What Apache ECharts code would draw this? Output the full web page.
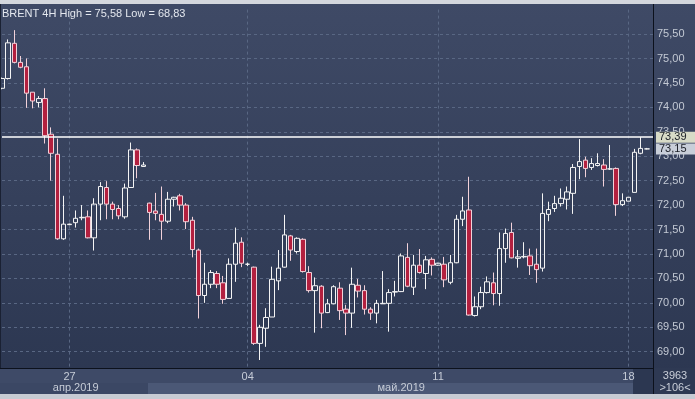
<!DOCTYPE html>
<html>
<head>
<meta charset="utf-8">
<style>
html, body { margin: 0; padding: 0; background: #2f3a53; }
#chart { width: 695px; height: 399px; }
</style>
<script src="https://cdn.jsdelivr.net/npm/echarts@6/dist/echarts.min.js"></script>
</head>
<body>
<div id="chart"></div>
<script>
// BRENT 4H candles
var opens = [74.39, 74.59, 75.31, 74.92, 74.83, 74.31, 74.10, 74.18, 73.45, 73.04,
    71.31, 71.60, 71.64, 71.74, 71.76, 71.33, 72.02, 72.36, 72.02, 71.93,
    71.76, 72.36, 73.13, 72.79, 72.04, 71.88, 71.81, 71.67, 72.12, 72.19,
    72.00, 71.69, 71.08, 70.15, 70.38, 70.60, 70.41, 70.09, 70.79, 71.24,
    70.79, 70.73, 69.17, 69.48, 69.71, 70.45, 70.73, 71.37, 71.05, 71.30,
    70.62, 70.25, 70.34, 69.80, 69.98, 70.30, 69.87, 69.79, 70.36, 70.25,
    69.87, 69.79, 69.98, 69.99, 70.22, 70.23, 70.93, 70.32, 70.77, 70.60,
    70.89, 70.77, 70.79, 70.42, 70.82, 71.71, 71.90, 69.74, 69.92, 70.21,
    70.41, 70.19, 71.11, 71.44, 70.91, 70.94, 70.96, 70.79, 70.71, 71.81,
    71.93, 72.03, 72.12, 72.24, 72.79, 72.92, 72.77, 72.81, 72.82, 72.74,
    72.75, 72.01, 72.08, 72.26, 73.06, 73.15];
var closes = [74.59, 75.32, 74.92, 74.82, 74.29, 74.13, 74.18, 73.42, 73.06, 71.31,
    71.61, 71.61, 71.73, 71.75, 71.33, 72.02, 72.38, 72.02, 71.91, 71.78,
    72.35, 73.13, 72.81, 72.82, 71.85, 71.83, 71.67, 72.12, 72.16, 72.00,
    71.66, 71.09, 70.15, 70.38, 70.62, 70.38, 70.07, 70.79, 71.22, 70.81,
    70.79, 69.17, 69.50, 69.70, 70.48, 70.71, 71.39, 71.08, 71.32, 70.64,
    70.25, 70.35, 69.79, 69.98, 70.33, 69.84, 69.79, 70.38, 70.24, 69.87,
    69.79, 69.99, 69.99, 70.21, 70.23, 70.96, 70.34, 70.77, 70.62, 70.88,
    70.77, 70.81, 70.47, 70.82, 71.71, 71.88, 69.75, 69.92, 70.21, 70.43,
    70.19, 71.11, 71.42, 70.92, 70.94, 70.95, 70.76, 70.68, 71.83, 71.91,
    72.03, 72.14, 72.27, 72.77, 72.89, 72.75, 72.85, 72.85, 72.73, 72.74,
    72.01, 72.09, 72.16, 73.08, 73.16, 73.15];
var lows = [74.37, 74.57, 74.90, 74.80, 73.99, 73.98, 74.00, 73.26, 72.50, 71.29,
    71.29, 71.59, 71.54, 71.69, 71.32, 71.07, 71.69, 71.71, 71.71, 71.71,
    71.72, 72.35, 72.55, 72.78, 71.29, 71.69, 71.29, 71.63, 71.97, 71.89,
    71.51, 70.93, 69.68, 70.00, 70.30, 70.30, 69.98, 70.09, 70.43, 70.73,
    70.75, 69.14, 68.83, 69.10, 69.71, 70.26, 70.72, 70.86, 71.01, 70.62,
    70.21, 69.39, 69.48, 69.79, 69.97, 69.65, 69.34, 69.49, 70.11, 69.76,
    69.65, 69.58, 69.98, 69.41, 70.13, 70.22, 70.32, 70.16, 70.60, 70.28,
    70.56, 70.76, 70.32, 70.38, 70.81, 71.57, 69.74, 69.72, 69.87, 70.19,
    69.95, 69.94, 70.82, 70.91, 70.72, 70.91, 70.57, 70.41, 70.64, 71.67,
    71.86, 71.97, 71.91, 71.82, 72.53, 72.57, 72.72, 72.79, 72.38, 72.72,
    71.78, 71.98, 72.08, 72.26, 73.04, 73.14];
var highs = [74.61, 75.39, 75.58, 75.05, 75.00, 74.31, 74.23, 74.39, 73.59, 73.36,
    72.19, 71.62, 71.89, 72.00, 71.89, 72.14, 72.47, 72.49, 72.07, 72.00,
    72.44, 73.28, 73.16, 72.88, 72.05, 72.25, 72.38, 72.27, 72.17, 72.23,
    72.04, 71.76, 71.11, 70.82, 70.67, 70.65, 70.55, 70.91, 71.54, 71.34,
    70.82, 70.74, 69.55, 69.89, 70.74, 71.08, 71.80, 71.39, 71.34, 71.32,
    70.75, 70.52, 70.36, 70.08, 70.36, 70.42, 69.96, 70.72, 70.49, 70.36,
    69.91, 70.06, 70.65, 70.28, 70.45, 71.01, 71.22, 70.98, 71.10, 70.96,
    70.93, 70.82, 70.94, 70.98, 71.80, 72.17, 72.58, 70.13, 70.33, 70.54,
    70.62, 71.44, 71.52, 71.64, 71.08, 71.24, 71.11, 71.11, 72.24, 72.07,
    72.19, 72.34, 72.38, 72.84, 73.35, 72.99, 72.96, 73.06, 72.94, 73.23,
    72.77, 72.24, 72.16, 73.15, 73.39, 73.17];

var dayTickIdx = [11, 40, 71, 102];
var dayTicks = ['27', '04', '11', '18'];
var monthTickIdx = [12, 65];
var monthTicks = ['апр.2019', 'май.2019'];
var levelLine = 73.39;
var volumeText = '3963';

var FONT = '"Liberation Sans Narrow", "Liberation Sans", Arial, sans-serif';
var GRID_COLOR = '#596783';

function fmt(v) {
    return Number(v).toFixed(2).replace('.', ',');
}

var candles = [];
for (var i = 0; i < opens.length; i++) {
    candles.push([opens[i], closes[i], lows[i], highs[i]]);
}
// one empty slot after the last bar
var cats = [];
for (i = 0; i <= opens.length; i++) cats.push(String(i));

var lastClose = closes[closes.length - 1];
var titleText = 'BRENT 4H High = ' + fmt(Math.max.apply(null, highs)) +
    ' Low = ' + fmt(Math.min.apply(null, lows));

var chart = echarts.init(document.getElementById('chart'));

var option = {
    animation: false,
    backgroundColor: '#333e58',
    title: {
        text: titleText,
        left: 2,
        top: 8,
        padding: 0,
        textStyle: { color: '#e3e7ee', fontSize: 11, fontWeight: 'normal', fontFamily: FONT }
    },
    grid: { left: 2, right: 42, top: 9.6, bottom: 22.86 },
    xAxis: [
        {
            type: 'category',
            data: cats,
            boundaryGap: false,
            z: 0,
            axisLine: { show: false },
            axisTick: { show: false },
            axisLabel: { show: false },
            splitLine: {
                show: true,
                interval: function (idx) { return dayTickIdx.indexOf(idx) >= 0; },
                lineStyle: { color: GRID_COLOR, type: [3, 3], width: 1 }
            }
        },
        {
            type: 'category',
            data: cats,
            boundaryGap: false,
            position: 'bottom',
            offset: -8.1,
            z: 5,
            axisLine: { show: true, lineStyle: { color: '#0c111c', width: 1 } },
            axisTick: { show: false },
            axisLabel: {
                interval: function (idx) { return dayTickIdx.indexOf(idx) >= 0; },
                formatter: function (v, idx) {
                    var k = dayTickIdx.indexOf(idx);
                    return k >= 0 ? dayTicks[k] : '';
                },
                margin: 3,
                color: '#c6ccd7',
                fontSize: 11,
                fontFamily: FONT
            },
            splitLine: { show: false }
        },
        {
            type: 'category',
            data: cats,
            boundaryGap: false,
            position: 'bottom',
            offset: -8.1,
            z: 5,
            axisLine: { show: false },
            axisTick: { show: false },
            axisLabel: {
                interval: function (idx) { return monthTickIdx.indexOf(idx) >= 0; },
                formatter: function (v, idx) {
                    var k = monthTickIdx.indexOf(idx);
                    return k >= 0 ? monthTicks[k] : '';
                },
                margin: 14,
                color: '#c6ccd7',
                fontSize: 11,
                fontFamily: FONT
            },
            splitLine: { show: false }
        }
    ],
    yAxis: {
        type: 'value',
        position: 'right',
        min: 68.5,
        max: 76,
        interval: 0.5,
        z: 1,
        axisLine: { show: true, lineStyle: { color: '#0c111c', width: 1 } },
        axisTick: { show: false },
        axisLabel: {
            margin: 4,
            color: '#c3c9d4',
            fontSize: 11,
            fontFamily: FONT,
            showMinLabel: false,
            showMaxLabel: false,
            formatter: fmt
        },
        splitLine: {
            show: true,
            showMinLine: false,
            showMaxLine: false,
            lineStyle: { color: GRID_COLOR, type: [3, 3], width: 1 }
        }
    },
    graphic: [
        {
            type: 'rect', z: -10, silent: true,
            shape: { x: 0, y: 0, width: 695, height: 399 },
            style: {
                fill: new echarts.graphic.LinearGradient(0, 0, 0, 1, [
                    { offset: 0, color: '#3f4a66' },
                    { offset: 1, color: '#2b3650' }
                ])
            }
        },
        { type: 'rect', z: 3, silent: true, shape: { x: 0, y: 0, width: 695, height: 4 }, style: { fill: '#d4d7dd' } },
        { type: 'rect', z: 3, silent: true, shape: { x: 0, y: 368, width: 653, height: 15 }, style: { fill: '#3e4a67' } },
        { type: 'rect', z: 3, silent: true, shape: { x: 0, y: 383, width: 148, height: 11 }, style: { fill: '#3b4764' } },
        { type: 'rect', z: 3, silent: true, shape: { x: 148, y: 383, width: 485, height: 11 }, style: { fill: '#4b5876' } },
        { type: 'rect', z: 3, silent: true, shape: { x: 633, y: 369, width: 20, height: 25 }, style: { fill: '#2c3751' } },
        { type: 'rect', z: 3, silent: true, shape: { x: 654, y: 368, width: 41, height: 26 }, style: { fill: '#2e3953' } },
        { type: 'rect', z: 3, silent: true, shape: { x: 0, y: 394, width: 695, height: 5 }, style: { fill: '#c7cbd3' } },
        { type: 'rect', z: 3, silent: true, shape: { x: 0, y: 4, width: 1, height: 364 }, style: { fill: '#1a2133' } },
        { type: 'line', z: 6, silent: true, shape: { x1: 653.5, y1: 4, x2: 653.5, y2: 394 }, style: { stroke: '#0c111c', lineWidth: 1 } },
        { type: 'line', z: 6, silent: true, shape: { x1: 0, y1: 368.5, x2: 653, y2: 368.5 }, style: { stroke: '#0c111c', lineWidth: 1 } },
        {
            type: 'text', z: 6, silent: true, x: 675, y: 376,
            style: { text: volumeText, fill: '#c9ced8', font: '11px ' + FONT, textAlign: 'center', textVerticalAlign: 'middle' }
        },
        {
            type: 'text', z: 6, silent: true, x: 675, y: 388,
            style: { text: '>' + opens.length + '<', fill: '#c9ced8', font: '11px ' + FONT, textAlign: 'center', textVerticalAlign: 'middle' }
        }
    ],
    series: [
        {
            name: 'BRENT 4H',
            type: 'candlestick',
            xAxisIndex: 0,
            data: candles,
            barWidth: 5,
            itemStyle: {
                color: 'rgba(0,0,0,0)',
                color0: '#b3203f',
                borderColor: '#f4f4f4',
                borderColor0: '#f2d2da',
                borderColorDoji: '#f4f4f4',
                borderWidth: 1
            },
            markLine: {
                symbol: 'none',
                silent: true,
                animation: false,
                label: {
                    show: true,
                    position: 'end',
                    distance: 3,
                    formatter: function (p) { return fmt(p.value); },
                    color: '#1b1f27',
                    fontSize: 11,
                    fontFamily: FONT,
                    padding: [0, 10, 0, 3]
                },
                data: [
                    {
                        yAxis: levelLine,
                        lineStyle: { color: '#ffffff', width: 1.5, type: 'solid' },
                        label: { backgroundColor: '#d8dbc7' }
                    },
                    {
                        yAxis: lastClose,
                        lineStyle: { color: 'rgba(0,0,0,0)', width: 1, type: 'solid' },
                        label: { backgroundColor: '#c8ced9' }
                    }
                ]
            }
        }
    ]
};

chart.setOption(option);
</script>
</body>
</html>
